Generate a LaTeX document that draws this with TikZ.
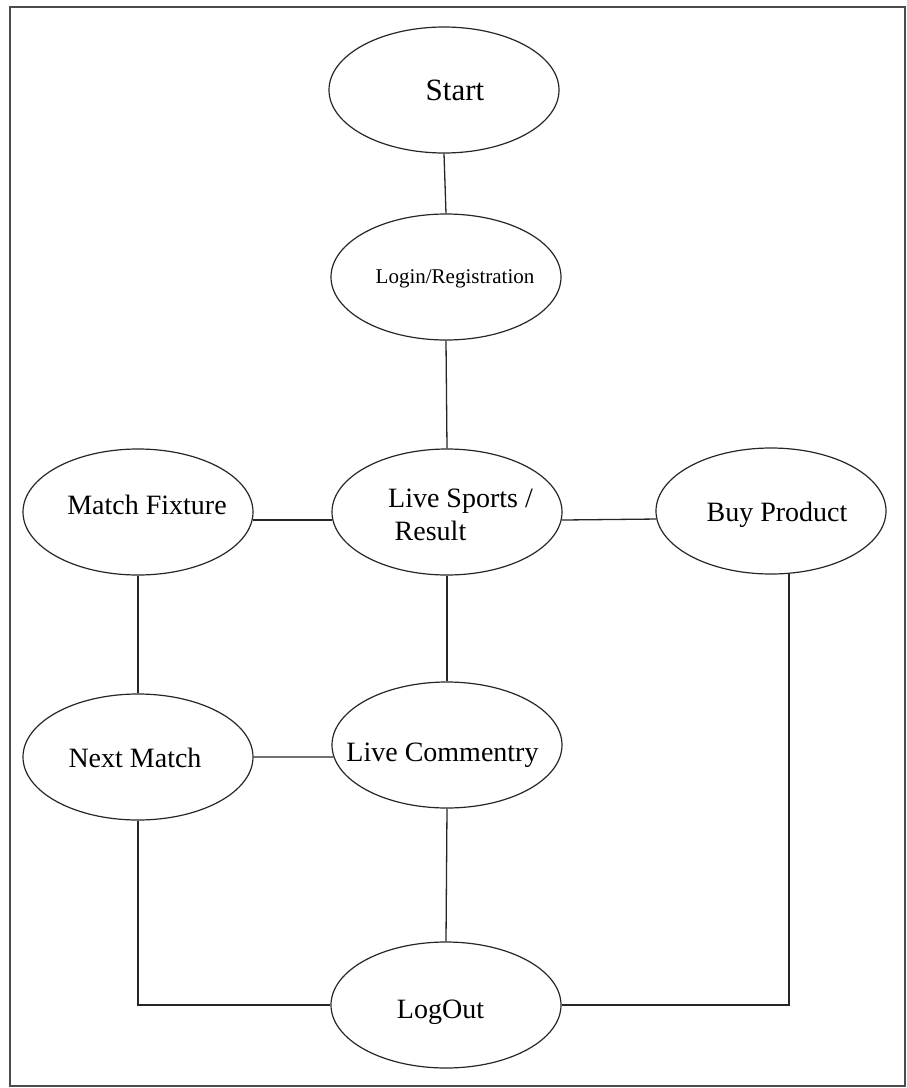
\documentclass[tikz,border=0pt]{standalone}
\usepackage{fontspec}
\setmainfont{Liberation Serif}
\usetikzlibrary{shapes.geometric}
\tikzset{
  oval/.style={ellipse, draw=black!85, line width=1.2pt, minimum width=230pt, minimum height=126pt, inner sep=0pt},
  lbl/.style={anchor=base, inner sep=0pt, font=\fontsize{28}{32}\selectfont},
  conn/.style={draw=black!85, line width=1.3pt},
  frame/.style={draw=black!70, line width=2pt}
}
\begin{document}
\begin{tikzpicture}[x=1pt,y=-1pt]
\useasboundingbox (0,0) rectangle (907,1088);
\draw[frame] (10,7) rectangle (905,1086);
% ellipses
\node[oval] (start) at (444,90) {};
\node[oval] (login) at (446,277) {};
\node[oval] (mf) at (138,512) {};
\node[oval] (ls) at (447,512) {};
\node[oval] (bp) at (771,511) {};
\node[oval] (nm) at (138,757) {};
\node[oval] (lc) at (447,745) {};
\node[oval] (lo) at (446,1005) {};
% labels
\node[lbl, font=\fontsize{31}{35}\selectfont] (startT) at (455,100) {Start};
\node[lbl, font=\fontsize{21}{25}\selectfont] (loginT) at (455,283) {Login/Registration};
\node[lbl] (mfT) at (147,514) {Match Fixture};
\node[lbl] (lsT1) at (460.5,507) {Live Sports /};
\node[lbl] (lsT2) at (430.5,540) {Result};
\node[lbl] (bpT) at (777,521) {Buy Product};
\node[lbl] (nmT) at (135,767) {Next Match};
\node[lbl] (lcT) at (442.5,761) {Live Commentry};
\node[lbl] (loT) at (440.5,1018) {LogOut};
% connectors
\draw[conn] (start.south) -- (login.north);
\draw[conn] (login.south) -- (ls.north);
\draw[conn] (mf.-4) -- (ls.184);
\draw[conn] (ls.-4) -- (bp.184.5);
\draw[conn] (mf.south) -- (nm.north);
\draw[conn] (ls.south) -- (lc.north);
\draw[conn] (nm.east) -- (lc.186);
\draw[conn] (lc.south) -- (lo.north);
\draw[conn] (nm.south) |- (lo.west);
\draw[conn] (bp.-74) |- (lo.east);
\end{tikzpicture}
\end{document}
